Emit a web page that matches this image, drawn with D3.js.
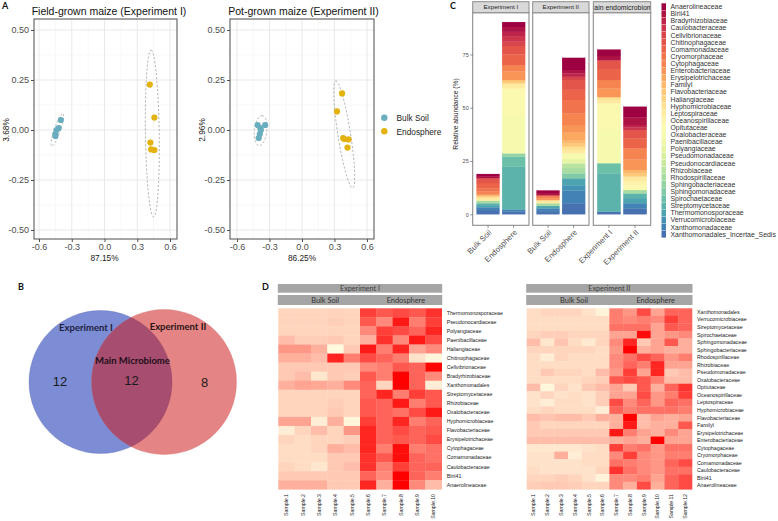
<!DOCTYPE html>
<html><head><meta charset="utf-8">
<script src="https://cdn.jsdelivr.net/npm/d3@7"></script>
<style>body{margin:0;background:#fff} svg{display:block} text{font-family:"Liberation Sans",Arial,sans-serif}</style>
</head><body><svg id="chart" width="778" height="521"></svg>
<script>
// ---------------- DATA ----------------
// Panel A (PCA)
const pcaXTicks = [-0.6, -0.3, 0.0, 0.3, 0.6];
const pcaYTicks = [-0.50, -0.25, 0.00, 0.25, 0.50];
const pcaGroups = ["Bulk Soil", "Endosphere"];
const exp1Bulk = [[-0.40, 0.05], [-0.42, 0.01], [-0.44, 0.00], [-0.45, -0.02], [-0.45, -0.03]];
const exp1Endo = [[0.415, 0.227], [0.457, 0.062], [0.42, -0.063], [0.427, -0.097], [0.457, -0.10]];
const exp2Bulk = [[-0.41, 0.025], [-0.34, 0.025], [-0.385, 0.01], [-0.38, 0.0], [-0.39, -0.02], [-0.40, -0.04]];
const exp2Endo = [[0.37, 0.183], [0.323, 0.093], [0.38, -0.04], [0.39, -0.045], [0.43, -0.047], [0.42, -0.088]];
// ellipses: [cx, cy, majorX, majorY, minorX, minorY]
const exp1BulkEllipse = [-0.433, 0.0, 0.053, 0.08, 0.022, -0.012];
const exp1EndoEllipse = [0.438, -0.017, -0.011, 0.417, 0.063, 0.0];
const exp2BulkEllipse = [-0.382, -0.003, 0.012, 0.075, 0.058, 0.0];
const exp2EndoEllipse = [0.39, -0.022, -0.08, 0.267, 0.055, 0.014];

// Panel C (stacked bars)
const families = ["Anaerolineaceae","Blrii41","Bradyrhizobiaceae","Caulobacteraceae","Cellvibrionaceae","Chitinophagaceae","Comamonadaceae","Cryomorphaceae","Cytophagaceae","Enterobacteriaceae","Erysipelotrichaceae","FamilyI","Flavobacteriaceae","Haliangiaceae","Hyphomicrobiaceae","Leptospiraceae","Oceanospirillaceae","Opitutaceae","Oxalobacteraceae","Paenibacillaceae","Polyangiaceae","Pseudomonadaceae","Pseudonocardiaceae","Rhizobiaceae","Rhodospirillaceae","Sphingobacteriaceae","Sphingomonadaceae","Spirochaetaceae","Streptomycetaceae","Thermomonosporaceae","Verrucomicrobiaceae","Xanthomonadaceae","Xanthomonadales_Incertae_Sedis"];
const facets = ["Experiment I", "Experiment II", "Main endomicrobiome"];
const facetCategories = [["Bulk Soil","Endosphere"],["Bulk Soil","Endosphere"],["Experiment I","Experiment II"]];
const yTicksC = [0, 25, 50, 75];
//                 0    1    2    3    4    5    6    7    8    9    10   11   12   13   14   15   16   17    18   19   20   21   22   23   24   25   26   27   28    29   30   31   32
const abundBulkI  = [1.0, 1.0, 0,   0,   0,   2.2, 2.5, 1.5, 1.5, 0,   0,   0.9, 0,   0,   1.0, 0.9, 0,   0,    0,   0,   0,   0,   0,   0,   1.2, 0,   0,   0,   0.9,  1.0, 0,   1.3, 2.0];
const abundEndoI  = [2.3, 2.3, 2.0, 2.6, 2.0, 4.0, 5.0, 0,   3.0, 4.0, 0,   0,   1.6, 0,   0,   2.4, 0,   12.4, 18.0,0,   0,   0,   0,   0,   0,   1.6, 0,   4.7, 20.0, 0,   0,   1.1, 1.2];
const abundBulkII = [1.2, 1.0, 0,   0,   0,   0,   0.7, 0,   0.8, 0.8, 0,   0,   0,   0,   0.7, 0.8, 0,   0,    0,   0,   0,   0,   0,   0,   1.3, 0,   0,   0,   0,    1.1, 0,   1.3, 1.5];
const abundEndoII = [5.7, 1.6, 1.6, 0,   1.5, 4.6, 4.8, 6.2, 5.5, 3.6, 3.5, 1.6, 1.5, 0,   1.6, 1.5, 0,   0,    2.7, 0,   2.0, 0,   0,   2.2, 2.5, 0,   2.3, 0,   0,    3.3, 2.5, 5.9, 5.2];
const abundMainI  = [3.0, 2.0, 0,   0,   0,   4.5, 4.8, 0,   4.0, 4.0, 0,   0,   0,   0,   1.5, 1.5, 0,   12.0, 16.0,0,   0,   0,   0,   0,   0,   0,   0,   4.75,18.0, 0,   0,   0,   1.25];
const abundMainII = [5.0, 3.6, 1.2, 1.2, 0,   4.0, 4.5, 0,   5.2, 5.0, 0,   1.6, 1.5, 0,   0,   2.1, 2.2, 2.0,  0,   0,   0,   0,   0,   0,   1.6, 0,   0,   0,   2.2,  2.4, 0,   2.6, 2.6];
const facetValues = [[abundBulkI, abundEndoI], [abundBulkII, abundEndoII], [abundMainI, abundMainII]];

// Panel B (Venn)
const vennSets = ["Experiment I", "Experiment II"];
const vennCounts = [12, 12, 8]; // only I, shared, only II
const vennShared = "Main Microbiome";

// Panel D (heatmaps)
const heat1Rows = ["Thermomonosporaceae","Pseudonocardiaceae","Polyangiaceae","Paenibacillaceae","Haliangiaceae","Chitinophagaceae","Cellvibrionaceae","Bradyrhizobiaceae","Xanthomonadales","Streptomycetaceae","Rhizobiaceae","Oxalobacteraceae","Hyphomicrobiaceae","Flavobacteriaceae","Erysipelotrichaceae","Cytophagaceae","Comamonadaceae","Caulobacteraceae","Blrii41","Anaerolineaceae"];
const heat1Samples = ["Sample.1","Sample.2","Sample.3","Sample.4","Sample.5","Sample.6","Sample.7","Sample.8","Sample.9","Sample.10"];
const heat1Values = [
 [0.15,0.15,0.15,0.16,0.15, 0.75,0.65,0.70,0.65,0.80],
 [0.15,0.15,0.15,0.18,0.15, 0.65,0.45,0.90,0.50,0.75],
 [0.15,0.15,0.15,0.15,0.15, 0.45,0.75,0.70,0.60,0.85],
 [0.25,0.18,0.18,0.20,0.15, 0.30,0.80,0.45,0.90,0.70],
 [0.40,0.40,0.30,0.00,0.20, 0.90,0.50,0.85,0.35,0.45],
 [0.30,0.30,0.25,0.85,0.50, 0.70,0.60,0.50,0.10,0.02],
 [0.20,0.20,0.20,0.20,0.20, 0.45,0.50,0.65,0.60,0.98],
 [0.20,0.25,0.08,0.20,0.18, 0.65,0.50,1.00,0.60,0.45],
 [0.30,0.35,0.33,0.30,0.45, 0.60,0.15,1.00,0.60,0.05],
 [0.15,0.15,0.15,0.15,0.15, 0.60,0.85,0.50,0.75,0.65],
 [0.15,0.15,0.15,0.18,0.15, 0.65,0.60,0.90,0.50,0.65],
 [0.15,0.15,0.15,0.20,0.15, 0.65,0.60,0.55,0.70,0.90],
 [0.35,0.35,0.05,0.30,0.02, 0.75,0.60,0.85,0.50,0.60],
 [0.05,0.15,0.25,0.15,0.40, 0.85,0.60,0.70,0.60,0.65],
 [0.15,0.12,0.15,0.15,0.18, 0.85,0.60,0.65,0.60,0.70],
 [0.12,0.12,0.15,0.30,0.25, 0.85,0.50,0.95,0.50,0.55],
 [0.12,0.12,0.12,0.20,0.20, 0.80,0.65,0.95,0.60,0.55],
 [0.15,0.12,0.08,0.20,0.25, 0.80,0.50,0.75,0.60,0.60],
 [0.20,0.20,0.20,0.20,0.20, 0.60,0.45,1.00,0.60,0.50],
 [0.30,0.30,0.30,0.20,0.20, 0.85,0.30,1.00,0.45,0.25]
];
const heat2Rows = ["Xanthomonadales","Verrucomicrobiaceae","Streptomycetaceae","Spirochaetaceae","Sphingomonadaceae","Sphingobacteriaceae","Rhodospirillaceae","Rhizobiaceae","Pseudomonadaceae","Oxalobacteraceae","Opitutaceae","Oceanospirillaceae","Leptospiraceae","Hyphomicrobiaceae","Flavobacteriaceae","FamilyI","Erysipelotrichaceae","Enterobacteriaceae","Cytophagaceae","Cryomorphaceae","Comamonadaceae","Caulobacteraceae","Blrii41","Anaerolineaceae"];
const heat2Samples = ["Sample.1","Sample.2","Sample.3","Sample.4","Sample.5","Sample.6","Sample.7","Sample.8","Sample.9","Sample.10","Sample.11","Sample.12"];
const heat2Values = [
 [0.12,0.15,0.15,0.15,0.10,0.03, 0.50,0.40,0.70,0.35,0.60,0.60],
 [0.12,0.12,0.12,0.12,0.12,0.12, 0.50,0.45,0.50,0.45,0.75,0.60],
 [0.12,0.12,0.12,0.12,0.12,0.12, 0.55,0.55,0.55,0.35,0.65,0.60],
 [0.15,0.18,0.18,0.15,0.15,0.15, 0.35,0.35,0.95,0.35,0.40,0.45],
 [0.25,0.08,0.22,0.12,0.07,0.15, 0.45,0.85,0.20,0.35,0.65,0.30],
 [0.15,0.15,0.15,0.15,0.15,0.12, 0.40,1.00,0.30,0.35,0.30,0.30],
 [0.12,0.05,0.15,0.12,0.12,0.12, 0.45,0.55,0.70,0.60,0.40,0.50],
 [0.12,0.12,0.12,0.12,0.12,0.12, 0.45,0.60,0.50,0.85,0.35,0.35],
 [0.12,0.20,0.15,0.15,0.12,0.25, 0.40,0.75,0.35,0.85,0.20,0.25],
 [0.12,0.12,0.12,0.12,0.15,0.18, 0.65,0.70,0.65,0.50,0.25,0.25],
 [0.25,0.02,0.15,0.10,0.20,0.25, 0.35,0.20,0.65,0.30,0.60,0.80],
 [0.10,0.15,0.10,0.12,0.10,0.18, 0.35,0.35,0.70,0.40,0.50,0.75],
 [0.10,0.05,0.12,0.12,0.10,0.18, 0.70,0.45,0.60,0.40,0.60,0.55],
 [0.12,0.15,0.12,0.12,0.12,0.05, 0.60,0.50,0.55,0.55,0.55,0.50],
 [0.25,0.22,0.25,0.25,0.20,0.30, 0.30,1.00,0.25,0.35,0.30,0.35],
 [0.20,0.15,0.15,0.15,0.15,0.15, 0.30,0.90,0.25,0.30,0.30,0.65],
 [0.20,0.20,0.20,0.20,0.20,0.20, 0.90,0.50,0.35,0.30,0.45,0.35],
 [0.25,0.25,0.25,0.25,0.25,0.25, 0.30,0.35,0.30,1.00,0.35,0.35],
 [0.08,0.08,0.08,0.08,0.10,0.12, 0.75,0.50,0.55,0.40,0.55,0.55],
 [0.10,0.10,0.30,0.05,0.12,0.12, 0.45,0.75,0.45,0.40,0.50,0.50],
 [0.10,0.10,0.10,0.10,0.12,0.12, 0.55,0.50,0.45,0.40,0.60,0.70],
 [0.12,0.10,0.10,0.10,0.10,0.15, 0.80,0.55,0.45,0.40,0.55,0.55],
 [0.15,0.15,0.18,0.15,0.10,0.03, 0.45,0.45,0.50,0.35,0.60,0.70],
 [0.18,0.20,0.20,0.18,0.15,0.15, 0.45,0.30,0.70,0.30,0.60,0.70]
];

// ---------------- DRAW ----------------
const svg = d3.select("#chart");
const groupColor = d3.scaleOrdinal().domain(pcaGroups).range(["#69AEBE", "#E3B20F"]);

function panelLabel(t, x, y) {
  svg.append("text").attr("x", x).attr("y", y).text(t)
    .style("font-family", "Lato, 'Open Sans', sans-serif").style("font-weight", "bold").style("font-size", "9px").attr("fill", "#111");
}

function drawPCA(cfg) {
  const x = d3.scaleLinear().domain(cfg.xDomain).range([cfg.x0, cfg.x1]);
  const y = d3.scaleLinear().domain(cfg.yDomain).range([cfg.y1, cfg.y0]);
  const g = svg.append("g");
  const xMinor = d3.pairs(pcaXTicks).map(p => (p[0] + p[1]) / 2);
  const yMinor = d3.pairs(pcaYTicks).map(p => (p[0] + p[1]) / 2);
  g.selectAll(".xm").data(xMinor).join("line").attr("x1", d => x(d)).attr("x2", d => x(d)).attr("y1", cfg.y0).attr("y2", cfg.y1).attr("stroke", "#F3F3F3").attr("stroke-width", 0.6);
  g.selectAll(".ym").data(yMinor).join("line").attr("y1", d => y(d)).attr("y2", d => y(d)).attr("x1", cfg.x0).attr("x2", cfg.x1).attr("stroke", "#F3F3F3").attr("stroke-width", 0.6);
  g.selectAll(".xg").data(pcaXTicks).join("line").attr("x1", d => x(d)).attr("x2", d => x(d)).attr("y1", cfg.y0).attr("y2", cfg.y1).attr("stroke", "#E6E6E6").attr("stroke-width", 0.9);
  g.selectAll(".yg").data(pcaYTicks).join("line").attr("y1", d => y(d)).attr("y2", d => y(d)).attr("x1", cfg.x0).attr("x2", cfg.x1).attr("stroke", "#E6E6E6").attr("stroke-width", 0.9);
  // ellipses
  const line = d3.line().x(d => x(d[0])).y(d => y(d[1])).curve(d3.curveLinearClosed);
  cfg.ellipses.forEach(e => {
    const pts = d3.range(0, 100).map(i => {
      const t = i / 100 * 2 * Math.PI;
      return [e[0] + e[2] * Math.cos(t) + e[4] * Math.sin(t), e[1] + e[3] * Math.cos(t) + e[5] * Math.sin(t)];
    });
    g.append("path").attr("d", line(pts)).attr("fill", "none").attr("stroke", "#A0A0A0").attr("stroke-width", 0.8).attr("stroke-dasharray", "2.2,1.8");
  });
  // points
  cfg.sets.forEach((s, i) => {
    g.selectAll(null).data(s).join("circle").attr("cx", d => x(d[0])).attr("cy", d => y(d[1])).attr("r", 3.1).attr("fill", groupColor(pcaGroups[i]));
  });
  g.append("rect").attr("x", cfg.x0).attr("y", cfg.y0).attr("width", cfg.x1 - cfg.x0).attr("height", cfg.y1 - cfg.y0).attr("fill", "none").attr("stroke", "#4D4D4D").attr("stroke-width", 1);
  const ax = g.append("g").attr("transform", `translate(0,${cfg.y1})`).call(d3.axisBottom(x).tickValues(pcaXTicks).tickFormat(d => d.toFixed(1)).tickSize(3).tickPadding(2));
  const ay = g.append("g").attr("transform", `translate(${cfg.x0},0)`).call(d3.axisLeft(y).tickValues(pcaYTicks).tickFormat(d => d.toFixed(2)).tickSize(3).tickPadding(2));
  [ax, ay].forEach(a => {
    a.select(".domain").remove();
    a.selectAll(".tick line").attr("stroke", "#4D4D4D");
    a.selectAll(".tick text").attr("fill", "#4D4D4D").style("font-size", "9px").style("font-family", "'Liberation Sans',Arial,sans-serif");
  });
  g.append("text").attr("x", x(0)).attr("y", cfg.y1 + 22).attr("text-anchor", "middle").text(cfg.xLabel).style("font-size", "8.3px").attr("fill", "#222");
  g.append("text").attr("transform", `translate(${cfg.yLabelX},${y(0)}) rotate(-90)`).attr("text-anchor", "middle").text(cfg.yLabel).style("font-size", "8.3px").attr("fill", "#222");
  g.append("text").attr("x", cfg.titleX).attr("y", 15).attr("text-anchor", "middle").text(cfg.title).style("font-size", "10.5px").attr("fill", "#111");
}

panelLabel("A", 2, 9);
drawPCA({x0: 34, x1: 177, y0: 19, y1: 239, xDomain: [-0.646, 0.664], yDomain: [-0.545, 0.555],
  sets: [exp1Bulk, exp1Endo], ellipses: [exp1BulkEllipse, exp1EndoEllipse],
  xLabel: "87.15%", yLabel: "3.68%", yLabelX: 9, title: "Field-grown maize (Experiment I)", titleX: 109});
drawPCA({x0: 230, x1: 374, y0: 19, y1: 239, xDomain: [-0.665, 0.665], yDomain: [-0.545, 0.555],
  sets: [exp2Bulk, exp2Endo], ellipses: [exp2BulkEllipse, exp2EndoEllipse],
  xLabel: "86.25%", yLabel: "2.96%", yLabelX: 205, title: "Pot-grown maize (Experiment II)", titleX: 303.5});
// legend A
pcaGroups.forEach((gname, i) => {
  svg.append("circle").attr("cx", 384.3).attr("cy", 117.8 + i * 13.4).attr("r", 3.2).attr("fill", groupColor(gname));
  svg.append("text").attr("x", 396.5).attr("y", 118 + i * 13.8).attr("dy", "0.35em").text(gname).style("font-size", "8.3px").attr("fill", "#222");
});

// ---------------- Panel C ----------------
panelLabel("C", 450, 9);
const famColor = d3.scaleOrdinal().domain(families).range(families.map((f, i) => d3.interpolateSpectral(i / (families.length - 1) * 0.94)));
const yC = d3.scaleLinear().domain([-5.16, 94.6]).range([225.3, 12.7]);
const facetRanges = [[472.7, 529], [532.7, 589], [593.3, 650.7]];
const stackGen = d3.stack().keys(families.slice().reverse());
const defs = svg.append("defs");
facets.forEach((fname, fi) => {
  const [fx0, fx1] = facetRanges[fi];
  const xb = d3.scaleBand().domain(facetCategories[fi]).range([fx0, fx1]).paddingInner(0.1).paddingOuter(0.15);
  const rows = facetCategories[fi].map((c, ci) => {
    const o = {cat: c};
    families.forEach((f, k) => o[f] = facetValues[fi][ci][k]);
    return o;
  });
  const series = stackGen(rows);
  const g = svg.append("g");
  series.forEach(s => {
    g.selectAll(null).data(s).join("rect")
      .attr("x", d => xb(d.data.cat)).attr("width", xb.bandwidth())
      .attr("y", d => yC(d[1])).attr("height", d => Math.max(0, yC(d[0]) - yC(d[1])))
      .attr("fill", famColor(s.key)).attr("stroke", famColor(s.key)).attr("stroke-width", 0.2);
  });
  g.append("rect").attr("x", fx0).attr("y", 12.7).attr("width", fx1 - fx0).attr("height", 225.3 - 12.7).attr("fill", "none").attr("stroke", "#8C8C8C").attr("stroke-width", 1.1);
  // strip
  defs.append("clipPath").attr("id", "clipC" + fi).append("rect").attr("x", fx0 + 0.5).attr("y", 1.7).attr("width", fx1 - fx0 - 1).attr("height", 11);
  g.append("rect").attr("x", fx0).attr("y", 1.7).attr("width", fx1 - fx0).attr("height", 11).attr("fill", "#D9D9D9").attr("stroke", "#8C8C8C").attr("stroke-width", 1);
  g.append("text").attr("clip-path", `url(#clipC${fi})`).attr("x", (fx0 + fx1) / 2 + (fi === 2 ? 0.5 : 0)).attr("y", 7.3).attr("dy", "0.35em").attr("text-anchor", "middle").text(fname).style("font-size", fi === 2 ? "6.9px" : "6.2px").attr("fill", "#1A1A1A");
  // x ticks & labels
  facetCategories[fi].forEach(c => {
    const cx = xb(c) + xb.bandwidth() / 2;
    g.append("line").attr("x1", cx).attr("x2", cx).attr("y1", 225.3).attr("y2", 228).attr("stroke", "#4D4D4D").attr("stroke-width", 0.6);
    g.append("text").attr("transform", `translate(${cx + 2},${231}) rotate(-45)`).attr("text-anchor", "end").attr("dy", "0.35em").text(c).style("font-size", "7.8px").attr("fill", "#4D4D4D");
  });
});
const ayC = svg.append("g").attr("transform", "translate(472.7,0)").call(d3.axisLeft(yC).tickValues(yTicksC).tickSize(2.5).tickPadding(1.5));
ayC.select(".domain").remove();
ayC.selectAll(".tick line").attr("stroke", "#4D4D4D").attr("stroke-width", 0.6);
ayC.selectAll(".tick text").attr("fill", "#4D4D4D").style("font-size", "5.5px");
svg.append("text").attr("transform", "translate(458,114) rotate(-90)").attr("text-anchor", "middle").text("Relative abundance (%)").style("font-size", "6.7px").attr("fill", "#222");
// legend C
const legC = svg.append("g");
families.forEach((f, i) => {
  const cy = 6.7 + i * 7.11;
  legC.append("rect").attr("x", 661.5).attr("y", cy - 3.4).attr("width", 4.5).attr("height", 6.8).attr("fill", famColor(f));
  legC.append("text").attr("x", 670.5).attr("y", cy).attr("dy", "0.35em").text(f).style("font-size", "6.9px").attr("fill", "#333");
});

// ---------------- Panel B (Venn) ----------------
panelLabel("B", 18, 290);
const vg = svg.append("g");
vg.append("circle").attr("cx", 100.5).attr("cy", 382).attr("r", 71.5).attr("fill", "rgb(124,141,213)").attr("stroke", "rgba(80,95,170,0.5)").attr("stroke-width", 0.6);
vg.append("circle").attr("cx", 164).attr("cy", 382).attr("r", 72.5).attr("fill", "rgb(205,20,20)").attr("fill-opacity", 0.52).attr("stroke", "rgba(200,90,90,0.5)").attr("stroke-width", 0.6);
const vFont = "Lato, 'Open Sans', sans-serif";
vg.append("text").attr("x", 86).attr("y", 328).attr("dy", "0.35em").attr("text-anchor", "middle").text(vennSets[0]).style("font-family", vFont).style("font-weight", "bold").style("font-size", "9.5px").attr("fill", "#1C2140");
vg.append("text").attr("x", 178).attr("y", 327).attr("dy", "0.35em").attr("text-anchor", "middle").text(vennSets[1]).style("font-family", vFont).style("font-weight", "bold").style("font-size", "9.5px").attr("fill", "#2A1414");
vg.append("text").attr("x", 132.5).attr("y", 361).attr("dy", "0.35em").attr("text-anchor", "middle").text(vennShared).style("font-family", vFont).style("font-weight", "bold").style("font-size", "9.5px").attr("fill", "#1E0F18");
[[60, 381], [131.5, 380], [204.5, 382]].forEach((p, i) => {
  vg.append("text").attr("x", p[0]).attr("y", p[1]).attr("dy", "0.35em").attr("text-anchor", "middle").text(vennCounts[i]).style("font-size", "13px").attr("fill", "#1A1A1A");
});

// ---------------- Panel D (heatmaps) ----------------
panelLabel("D", 262, 290);
const heatColor = d3.scaleLinear().domain([0, 1]).range(["#FFFBE0", "#FF0000"]).interpolate(d3.interpolateRgb);
function drawHeat(cfg) {
  const g = svg.append("g");
  const x = d3.scaleBand().domain(cfg.samples).range([cfg.x0, cfg.x1]);
  const y = d3.scaleBand().domain(cfg.rows).range([308.3, 489.3]);
  cfg.values.forEach((row, ri) => {
    g.selectAll(null).data(row).join("rect")
      .attr("x", (d, ci) => x(cfg.samples[ci])).attr("y", y(cfg.rows[ri]))
      .attr("width", x.bandwidth() + 0.3).attr("height", y.bandwidth() + 0.3)
      .attr("fill", d => heatColor(d));
  });
  g.append("rect").attr("x", cfg.x0 - 0.5).attr("y", 284).attr("width", cfg.x1 - cfg.x0 + 1).attr("height", 8.7).attr("fill", "#A5A5A5");
  g.append("rect").attr("x", cfg.x0 - 0.5).attr("y", 295).attr("width", cfg.x1 - cfg.x0 + 1).attr("height", 10).attr("fill", "#A5A5A5");
  const sf = "Lato, 'Open Sans', sans-serif";
  g.append("text").attr("x", (cfg.x0 + cfg.x1) / 2).attr("y", 288.5).attr("dy", "0.35em").attr("text-anchor", "middle").text(cfg.title).style("font-family", sf).style("font-size", "7.2px").attr("fill", "#404040");
  const half = Math.floor(cfg.samples.length / 2);
  const bx = (x(cfg.samples[0]) + x(cfg.samples[half - 1]) + x.bandwidth()) / 2 + 6;
  const ex = (x(cfg.samples[half]) + x(cfg.samples[cfg.samples.length - 1]) + x.bandwidth()) / 2 + 5;
  g.append("text").attr("x", bx).attr("y", 300.2).attr("dy", "0.35em").attr("text-anchor", "middle").text("Bulk Soil").style("font-family", sf).style("font-size", "7.4px").attr("fill", "#333");
  g.append("text").attr("x", ex).attr("y", 300.2).attr("dy", "0.35em").attr("text-anchor", "middle").text("Endosphere").style("font-family", sf).style("font-size", "7.4px").attr("fill", "#333");
  g.selectAll(".rl").data(cfg.rows).join("text").attr("x", cfg.x1 + 5).attr("y", d => y(d) + y.bandwidth() / 2).attr("dy", "0.35em").text(d => d).style("font-size", "5.3px").attr("fill", "#222");
  g.selectAll(".cl").data(cfg.samples).join("text")
    .attr("transform", d => `translate(${x(d) + x.bandwidth() / 2},494) rotate(-90)`)
    .attr("text-anchor", "end").attr("dy", "0.35em").text(d => d).style("font-size", "5.2px").attr("fill", "#222");
}
drawHeat({x0: 278.3, x1: 441.7, rows: heat1Rows, samples: heat1Samples, values: heat1Values, title: "Experiment I"});
drawHeat({x0: 526.7, x1: 692, rows: heat2Rows, samples: heat2Samples, values: heat2Values, title: "Experiment II"});
</script></body></html>
